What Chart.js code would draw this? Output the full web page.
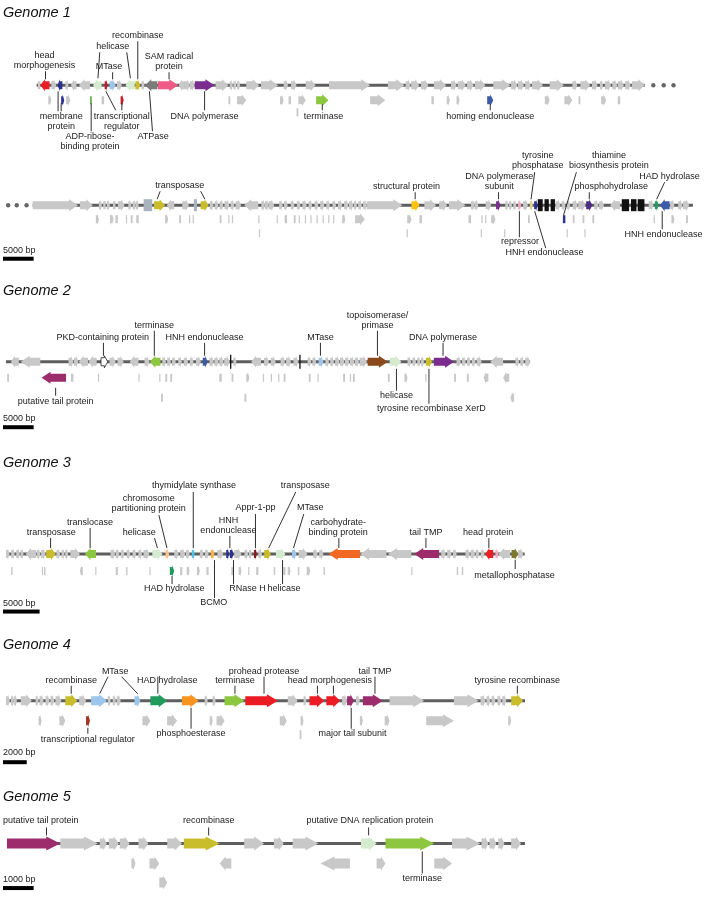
<!DOCTYPE html>
<html>
<head>
<meta charset="utf-8">
<script src="https://cdn.jsdelivr.net/npm/chart.js@4.4.0/dist/chart.umd.min.js"></script>
<style>
  body { margin: 0; background: #fff; }
  canvas { display: block; }
</style>
</head>
<body>
<canvas id="map" width="708" height="897"></canvas>
<script>
// ---------------------------------------------------------------- DATA
// every position is in kb from the start of the drawn segment
// gene = [from, to, lane, colour]   (to < from -> gene on the minus strand)
// lane 0 = on the genome line, 1 and 2 = rows below it

const genomeNames = ["Genome 1", "Genome 2", "Genome 3", "Genome 4", "Genome 5"];
const segmentLength = [99.2, 107.7, 85.5, 70.9, 43.75, 16.9];
const scaleBarKb = [5, 5, 5, 2, 1];
const scaleBarText = ["5000 bp", "5000 bp", "5000 bp", "2000 bp", "1000 bp"];
const g1Dots = [[100.6, 102.3, 103.9], [-4.0, -2.6, -1.0]];

const g1aGenes = [
  [0.2, 0.6], [2.1, 0.6, 0, "red"], [2.4, 3.2], [4.2, 3.4, 0, "navy"], [4.7, 5.2], [6.5, 5.6],
  [8.7, 6.9], [10.6, 9.2, 0, "pgreen"], [11.1, 11.6, 0, "dred"], [11.9, 12.9, 0, "lblue"],
  [13.1, 13.9], [16.0, 14.5, 0, "pgreen"], [16.1, 16.9, 0, "yel"], [17.1, 17.6],
  [19.7, 17.7, 0, "dgray"], [19.8, 23.1, 0, "pink"], [24.2, 23.2], [24.2, 25.0], [25.0, 25.8],
  [25.8, 29.0, 0, "purp"], [29.2, 31.3], [31.5, 32.0], [32.1, 32.6], [32.7, 33.2],
  [34.2, 36.3], [36.6, 39.4], [40.3, 41.0], [41.5, 42.4], [43.9, 45.5], [47.7, 54.4],
  [57.3, 60.0], [60.2, 61.0], [61.1, 62.4], [62.7, 63.9], [64.8, 66.8], [67.6, 68.5],
  [68.7, 70.0], [70.2, 71.3], [71.5, 73.2], [74.5, 77.3], [77.4, 78.4], [78.5, 79.5],
  [79.7, 80.6], [80.8, 82.6], [83.7, 86.0], [87.4, 88.2], [88.7, 90.3], [90.6, 91.5],
  [91.9, 92.4], [92.7, 93.7], [93.9, 94.7], [94.8, 95.8], [96.0, 96.9], [97.1, 99.2],
  [1.9, 2.4, 1], [4.0, 4.5, 1, "navy"], [4.8, 5.5, 1], [8.7, 9.0, 1, "agreen"], [10.6, 11.0, 1],
  [13.7, 14.2, 1, "dred"], [31.3, 31.6, 1], [32.7, 34.2, 1], [39.7, 40.3, 1], [41.1, 41.5, 1],
  [42.7, 43.9, 1], [45.6, 47.6, 1, "green"], [54.4, 56.9, 1], [64.4, 64.8, 1], [66.9, 67.4, 1],
  [68.5, 69.0, 1], [73.5, 74.5, 1, "blue"], [82.9, 83.7, 1], [86.1, 87.4, 1], [88.4, 88.7, 1],
  [92.1, 92.9, 1], [94.8, 95.2, 1],
  [42.4, 42.7, 2]
];

const g1bGenes = [
  [0, 7.4], [7.7, 9.8], [10.8, 11.3], [11.5, 11.9], [12.1, 12.6], [13.1, 13.5], [13.9, 15.0],
  [15.6, 16.1], [16.3, 16.8], [16.8, 17.3], [18.1, 19.5, 0, "box"], [19.8, 21.6, 0, "yel"],
  [23.1, 21.9], [24.4, 25.5], [26.3, 26.8, 0, "box"], [27.4, 28.7, 0, "yel"], [28.9, 29.5],
  [29.7, 30.3], [30.5, 31.1], [31.3, 32.1], [32.3, 32.9], [33.1, 34.0], [36.8, 34.5],
  [37.3, 37.9], [37.9, 38.5], [38.5, 39.4], [40.2, 40.8], [41.0, 41.6], [42.1, 42.7],
  [43.1, 43.7], [44.0, 44.7], [45.0, 45.6], [46.0, 46.6], [46.9, 47.6], [47.9, 48.5],
  [48.9, 49.5], [49.8, 50.5], [50.8, 51.5], [51.6, 52.3], [52.4, 52.9], [53.1, 53.7],
  [53.9, 54.5], [54.5, 60.3], [61.8, 63.1, 0, "gold"], [63.9, 65.8], [66.3, 67.6], [67.9, 70.6],
  [71.5, 72.1], [72.1, 72.7], [73.9, 74.8], [75.6, 76.3, 0, "purp"], [77.1, 77.6], [77.7, 78.2],
  [78.4, 78.9], [79.2, 79.7, 0, "lpink"], [80.0, 80.8], [81.1, 81.6, 0, "khaki"],
  [81.8, 82.4, 0, "navy"], [82.4, 83.2, 0, "blk"], [83.5, 84.2, 0, "blk"], [84.5, 85.2, 0, "blk"],
  [85.3, 86.1], [86.3, 86.9], [87.1, 87.7], [88.1, 88.9], [89.0, 90.2], [90.3, 91.3, 0, "indigo"],
  [91.6, 92.3], [92.4, 93.2], [95.8, 94.2], [96.1, 97.3, 0, "blk"], [97.6, 98.5, 0, "blk"],
  [98.7, 99.8, 0, "blk"], [100.5, 101.3], [101.5, 102.1, 0, "hgreen"], [103.9, 102.3, 0, "blue"],
  [104.0, 104.7], [105.3, 106.0], [106.1, 107.1],
  [10.3, 10.8, 1], [12.6, 13.2, 1], [13.5, 13.9, 1], [15.2, 15.4, 1], [16.0, 16.3, 1],
  [16.9, 17.3, 1], [21.6, 22.1, 1], [23.9, 24.2, 1], [25.5, 25.7, 1], [26.1, 26.3, 1],
  [30.5, 30.8, 1], [31.9, 32.1, 1], [32.5, 32.7, 1], [36.8, 37.0, 1], [39.8, 40.0, 1],
  [41.1, 41.5, 1], [42.6, 42.9, 1], [43.4, 43.6, 1], [44.4, 44.6, 1], [45.3, 45.5, 1],
  [46.3, 46.5, 1], [47.3, 47.5, 1], [48.2, 48.4, 1], [49.0, 49.2, 1], [50.5, 51.0, 1],
  [52.6, 54.2, 1], [61.1, 61.8, 1], [63.1, 63.5, 1], [71.1, 71.5, 1], [73.2, 73.4, 1],
  [73.8, 74.0, 1], [74.8, 75.5, 1], [80.8, 81.1, 1], [86.5, 86.9, 1, "navy"], [88.1, 88.4, 1],
  [89.7, 90.0, 1], [91.3, 91.6, 1], [101.3, 101.5, 1], [104.2, 104.7, 1], [106.6, 106.9, 1],
  [36.9, 37.1, 2], [61.0, 61.2, 2], [73.1, 73.3, 2], [76.9, 77.1, 2], [87.1, 87.3, 2], [90.0, 90.2, 2]
];

const g2Genes = [
  [2.1, 0.8], [5.6, 2.4], [10.2, 11.0], [11.1, 11.8], [13.4, 11.9], [14.8, 13.5],
  [15.5, 16.6, 0, "pkd"], [16.9, 17.9], [18.2, 19.2], [21.6, 20.2], [22.6, 23.4],
  [25.2, 23.5, 0, "green"], [25.5, 26.1], [26.3, 26.9], [27.1, 27.7], [28.1, 28.7], [29.0, 29.7],
  [30.0, 30.6], [31.0, 31.8], [32.1, 32.9, 0, "blue"], [33.2, 33.9], [34.0, 34.7], [34.8, 35.5],
  [35.6, 36.5], [36.55, 36.6, 0, "tick"], [37.1, 37.6], [41.6, 40.0], [42.1, 42.9], [43.2, 44.0],
  [44.8, 45.5], [45.7, 46.5], [46.9, 47.7], [47.85, 47.9, 0, "tick"], [49.2, 49.8], [50.0, 50.6],
  [51.0, 51.8, 0, "lblue"], [52.1, 52.7], [52.9, 53.5], [53.7, 54.4], [54.5, 55.2], [55.3, 56.0],
  [56.1, 56.8], [56.9, 57.6], [57.7, 58.9], [59.0, 62.3, 0, "brown"], [62.6, 64.5, 0, "pgreen"],
  [65.5, 66.1], [66.3, 66.9], [67.1, 67.6], [67.7, 68.2], [68.5, 69.5, 0, "yel"],
  [69.8, 73.1, 0, "purp"], [73.5, 74.2], [74.4, 75.0], [75.2, 75.8], [76.0, 76.6], [76.8, 77.6],
  [81.1, 79.0], [83.1, 83.7], [83.9, 84.5], [84.7, 85.5],
  [0.2, 0.5, 1], [9.8, 5.8, 1, "mag"], [10.6, 11.0, 1], [15.0, 15.2, 1], [21.6, 21.8, 1],
  [25.0, 25.2, 1], [26.0, 26.3, 1], [26.8, 27.1, 1], [34.8, 35.2, 1], [36.8, 37.1, 1],
  [39.2, 39.7, 1], [41.9, 42.1, 1], [43.2, 43.4, 1], [44.4, 44.6, 1], [45.3, 45.6, 1],
  [49.4, 49.7, 1], [50.8, 51.0, 1], [55.0, 55.3, 1], [56.1, 56.3, 1], [56.6, 56.9, 1],
  [62.3, 62.6, 1], [65.0, 65.5, 1], [68.4, 68.6, 1], [73.1, 73.4, 1], [75.2, 75.5, 1],
  [78.7, 77.9, 1], [82.1, 81.1, 1],
  [25.3, 25.6, 2], [38.9, 39.2, 2], [82.9, 82.3, 2]
];

const g3Genes = [
  [0, 0.5], [0.7, 1.2], [1.4, 1.9], [2.0, 2.4], [4.1, 2.7], [4.2, 4.7], [4.8, 5.4],
  [5.5, 6.8, 0, "yel"], [6.9, 7.4], [7.6, 8.0], [8.1, 8.5], [8.8, 10.1], [12.3, 10.8, 0, "green"],
  [14.3, 14.9], [15.0, 15.5], [15.7, 16.2], [16.5, 17.0], [17.3, 17.8], [18.1, 18.6], [18.8, 19.6],
  [20.0, 21.4, 0, "pgreen"], [21.8, 22.3, 0, "peach"], [23.0, 23.6], [23.8, 24.5], [24.6, 25.1],
  [25.4, 25.8, 0, "cyan"], [26.5, 27.0], [27.2, 27.7], [28.0, 28.5, 0, "apricot"], [28.9, 29.7],
  [30.1, 30.5, 0, "navy"], [30.6, 31.1, 0, "navy"], [31.2, 32.2], [32.6, 33.1], [33.2, 33.6],
  [33.9, 34.3, 0, "appr"], [34.5, 35.0], [35.3, 36.2, 0, "yel"], [36.9, 38.2, 0, "pgreen"],
  [39.1, 39.7, 0, "lblue"], [40.0, 41.2], [42.0, 42.6], [42.8, 43.4], [48.4, 44.1, 0, "orange"],
  [52.0, 48.4], [55.4, 52.2], [59.2, 55.8, 0, "mag"], [59.5, 60.1], [60.3, 60.9], [61.1, 61.6],
  [62.8, 63.4], [63.5, 64.1], [64.2, 64.7], [64.9, 65.4], [66.6, 65.5, 0, "red"],
  [66.9, 67.3, 0, "lpink"], [68.9, 67.3], [69.1, 70.0, 0, "olive"], [70.0, 70.7],
  [0.7, 0.9, 1], [4.9, 5.0, 1], [5.2, 5.4, 1], [10.5, 10.1, 1], [12.2, 12.35, 1], [15.0, 15.3, 1],
  [16.4, 16.6, 1], [19.6, 19.75, 1], [22.4, 23.0, 1, "hgreen"], [23.8, 24.1, 1], [24.7, 25.1, 1],
  [26.1, 26.5, 1], [27.4, 27.7, 1], [30.8, 31.2, 1], [31.8, 32.2, 1], [33.1, 33.25, 1],
  [34.2, 34.5, 1], [36.6, 36.8, 1], [37.9, 38.2, 1], [38.5, 38.9, 1], [39.9, 40.1, 1],
  [41.1, 41.6, 1], [43.4, 43.6, 1], [55.4, 55.55, 1], [61.6, 61.8, 1], [62.3, 62.5, 1]
];

const g4Genes = [
  [0, 0.33], [0.42, 0.67], [0.67, 0.92], [1.25, 2.17], [2.5, 2.75], [2.83, 3.17], [3.33, 3.67],
  [3.75, 4.08], [4.17, 4.67], [5.0, 6.0, 0, "yel"], [6.17, 6.75], [7.17, 8.5, 0, "lblue"],
  [8.58, 8.83], [9.0, 9.25], [9.33, 9.67], [10.83, 11.33, 0, "lblue"], [12.17, 13.58, 0, "hgreen"],
  [14.83, 16.25, 0, "porange"], [16.75, 17.0], [17.42, 17.67], [18.42, 20.08, 0, "green"],
  [20.17, 22.92, 0, "red"], [23.75, 24.58], [25.08, 25.33], [25.58, 26.83, 0, "red"],
  [27.0, 28.17, 0, "red"], [28.33, 28.75], [28.75, 29.33, 0, "mag"], [29.5, 29.83],
  [30.08, 31.75, 0, "mag"], [32.33, 35.25], [37.75, 39.83], [40.0, 40.42], [40.5, 40.83],
  [40.92, 41.25], [41.42, 41.75], [41.83, 42.17], [42.58, 43.58, 0, "yel"],
  [2.75, 3.0, 1], [4.5, 5.0, 1], [6.75, 7.08, 1, "rust"], [11.5, 12.17, 1], [13.58, 14.42, 1],
  [17.17, 17.42, 1], [17.75, 18.42, 1], [23.08, 23.67, 1], [24.83, 25.08, 1], [29.83, 30.08, 1],
  [31.92, 32.33, 1], [35.42, 37.75, 1], [42.33, 42.58, 1],
  [24.75, 24.9, 2]
];

const g5Genes = [
  [0, 1.74, 0, "mag"], [1.74, 2.97], [3.03, 3.26], [3.32, 3.65], [3.68, 4.0], [4.29, 4.61],
  [5.23, 5.71], [5.77, 6.94, 0, "yel"], [7.74, 8.39], [8.71, 9.03], [9.32, 10.16],
  [11.55, 12.06, 0, "pgreen"], [12.35, 13.94, 0, "green"], [14.52, 15.45], [15.48, 15.71],
  [15.74, 15.97], [16.03, 16.23], [16.45, 16.77],
  [4.06, 4.19, 1], [4.65, 4.97, 1], [7.32, 6.94, 1], [11.19, 10.23, 1], [12.06, 12.35, 1],
  [13.94, 14.52, 1],
  [4.97, 5.23, 2]
];

// label = [text lines, kb of text centre, baseline of last line (px from genome line), leader lines [kb, dy, kb, dy]]
const g1aLabels = [
  [["head", "morphogenesis"], 1.3, -17, [[1.45, -14, 1.45, -6]]],
  [["helicase"], 12.4, -36, [[10.3, -33, 10.0, -7]]],
  [["MTase"], 11.8, -16, [[12.4, -13, 12.4, -6]]],
  [["recombinase"], 16.5, -47, [[16.5, -44, 16.5, -6]]],
  [["SAM radical", "protein"], 21.6, -16, [[21.6, -13, 21.6, -6]]],
  [["membrane", "protein"], 4.0, 44, [[3.5, 6, 3.5, 26], [4.0, 18, 4.0, 26]]],
  [["transcriptional", "regulator"], 13.9, 44, [[11.3, 6, 12.9, 25], [13.9, 18, 13.9, 25]]],
  [["ADP-ribose-", "binding protein"], 8.7, 64, [[8.9, 18, 8.9, 46]]],
  [["ATPase"], 19.0, 54, [[18.4, 6, 18.9, 46]]],
  [["DNA polymerase"], 27.4, 34, [[27.4, 6, 27.4, 25]]],
  [["terminase"], 46.8, 34, [[46.6, 19, 46.6, 25]]],
  [["homing endonuclease"], 74.0, 34, [[74.0, 19, 74.0, 25]]]
];
// second leader of "helicase" goes to the other helicase gene
g1aLabels[1][3].push([14.7, -33, 15.3, -7]);

const g1bLabels = [
  [["transposase"], 24.0, -17, [[20.8, -14, 20.3, -6], [27.4, -14, 28.1, -6]]],
  [["structural protein"], 61.0, -16, [[62.4, -13, 62.4, -6]]],
  [["DNA polymerase", "subunit"], 76.1, -16, [[76.0, -13, 76.0, -6]]],
  [["tyrosine", "phosphatase"], 82.4, -37, [[81.9, -33, 81.3, -6]]],
  [["thiamine", "biosynthesis protein"], 94.0, -37, [[88.7, -33, 86.6, 10]]],
  [["phosphohydrolase"], 94.4, -16, [[90.8, -13, 90.8, -6]]],
  [["HAD hydrolase"], 103.9, -26, [[103.1, -23, 101.8, -6]]],
  [["HNH endonuclease"], 102.9, 32, [[102.7, 6, 102.7, 24]]],
  [["repressor"], 79.5, 39, [[79.4, 6, 79.4, 32]]],
  [["HNH endonuclease"], 83.5, 50, [[81.9, 6, 83.7, 43]]]
];
const g2Labels = [
  [["PKD-containing protein"], 15.8, -22, [[15.9, -19, 15.9, -6]]],
  [["terminase"], 24.2, -34, [[24.2, -31, 24.2, -6]]],
  [["HNH endonuclease"], 32.4, -22, [[32.4, -19, 32.4, -6]]],
  [["MTase"], 51.3, -22, [[51.3, -19, 51.3, -6]]],
  [["topoisomerase/", "primase"], 60.6, -34, [[60.6, -31, 60.6, -6]]],
  [["DNA polymerase"], 71.3, -22, [[71.3, -19, 71.3, -6]]],
  [["putative tail protein"], 8.1, 42, [[8.1, 26, 8.1, 34]]],
  [["helicase"], 63.7, 36, [[63.7, 7, 63.7, 29]]],
  [["tyrosine recombinase XerD"], 69.4, 49, [[69.0, 7, 69.0, 42]]]
];
const g3Labels = [
  [["transposase"], 6.2, -19, [[6.1, -16, 6.1, -6]]],
  [["translocase"], 11.5, -29, [[11.5, -26, 11.5, -6]]],
  [["helicase"], 18.2, -19, [[20.3, -16, 20.7, -6]]],
  [["chromosome", "partitioning protein"], 19.5, -43, [[20.9, -39, 22.0, -6]]],
  [["thymidylate synthase"], 25.7, -66, [[25.6, -62, 25.6, -6]]],
  [["HNH", "endonuclease"], 30.4, -21, [[30.6, -18, 30.6, -6]]],
  [["Appr-1-pp"], 34.1, -44, [[34.1, -40, 34.1, -6]]],
  [["transposase"], 40.9, -66, [[39.6, -62, 35.9, -6]]],
  [["MTase"], 41.6, -44, [[40.7, -40, 39.3, -6]]],
  [["carbohydrate-", "binding protein"], 45.4, -19, [[45.5, -16, 45.5, -6]]],
  [["tail TMP"], 57.4, -19, [[57.4, -16, 57.4, -6]]],
  [["head protein"], 65.9, -19, [[66.0, -16, 66.0, -6]]],
  [["metallophosphatase"], 69.5, 24, [[69.6, 6, 69.6, 15]]],
  [["HAD hydrolase"], 23.0, 37, [[22.7, 22, 22.7, 30]]],
  [["BCMO"], 28.4, 51, [[28.5, 6, 28.5, 44]]],
  [["RNase H"], 33.0, 37, [[31.1, 6, 31.1, 30]]],
  [["helicase"], 38.0, 37, [[37.8, 6, 37.8, 30]]]
];
const g4Labels = [
  [["recombinase"], 5.5, -18, [[5.5, -15, 5.5, -7]]],
  [["MTase"], 9.2, -27, [[8.6, -24, 7.9, -7], [9.75, -24, 11.1, -7]]],
  [["HAD hydrolase"], 13.6, -18, [[12.8, -24, 12.8, -7]]],
  [["terminase"], 19.3, -18, [[19.3, -15, 19.3, -7]]],
  [["prohead protease"], 21.75, -27, [[21.75, -24, 21.75, -7]]],
  [["head morphogenesis"], 27.3, -18, [[26.25, -15, 26.25, -7], [27.6, -15, 27.6, -7]]],
  [["tail TMP"], 31.1, -27, [[31.1, -24, 31.1, -7]]],
  [["tyrosine recombinase"], 43.1, -18, [[43.1, -15, 43.1, -7]]],
  [["phosphoesterase"], 15.6, 35, [[15.6, 7, 15.6, 28]]],
  [["major tail subunit"], 29.2, 35, [[29.1, 7, 29.1, 28]]],
  [["transcriptional regulator"], 6.9, 41, [[6.9, 27, 6.9, 33]]]
];
const g5Labels = [
  [["putative tail protein"], 1.1, -20, [[1.29, -16, 1.29, -8]]],
  [["recombinase"], 6.58, -20, [[6.58, -16, 6.58, -8]]],
  [["putative DNA replication protein"], 11.84, -20, [[11.8, -16, 11.8, -8]]],
  [["terminase"], 13.55, 38, [[13.55, 8, 13.55, 30]]]
];

// ---------------------------------------------------------------- LAYOUT / STYLE
const W = 708, H = 897;
const palette = {
  n: "#c8c8c8", red: "#ec1c24", navy: "#2e3192", pgreen: "#d4ebd0", dred: "#be1e2d",
  lblue: "#9dc6ec", yel: "#c9bd2b", dgray: "#7b7b7b", pink: "#ef5a86", purp: "#7b2c8f",
  green: "#8dc63f", blue: "#3d5ca8", agreen: "#6cb548", gold: "#fdc20f", blk: "#111111",
  brown: "#8a4a1c", mag: "#9c2c6c", orange: "#f26722", peach: "#fbc592", apricot: "#fbb04a",
  cyan: "#4fc4e7", appr: "#8d1b1b", olive: "#7d7a2f", hgreen: "#1f9b5c", porange: "#f7941d",
  lpink: "#f3a9c5", box: "#a9b3c0", khaki: "#d9d38f", indigo: "#4b2d87", rust: "#a3311f",
  pkd: "#ffffff", tick: "#111111"
};

// one entry per drawn genome line
const tracks = [
  { id: "g1a", genes: g1aGenes, labels: g1aLabels, x0: 33, ppk: 6.2, y: 82, lanes: [0, 15, 27], body: 8, head: 12, headMax: 9 },
  { id: "g1b", genes: g1bGenes, labels: g1bLabels, x0: 29, ppk: 6.2, y: 203, lanes: [0, 14, 28], body: 8, head: 12, headMax: 9 },
  { id: "g2", genes: g2Genes, labels: g2Labels, x0: 2, ppk: 6.2, y: 361, lanes: [0, 16, 36], body: 8, head: 12, headMax: 9 },
  { id: "g3", genes: g3Genes, labels: g3Labels, x0: 2, ppk: 7.4, y: 555, lanes: [0, 17, 30], body: 8, head: 12, headMax: 9 },
  { id: "g4", genes: g4Genes, labels: g4Labels, x0: 2, ppk: 12, y: 703, lanes: [0, 20, 34], body: 9, head: 13, headMax: 11 },
  { id: "g5", genes: g5Genes, labels: g5Labels, x0: 3, ppk: 31, y: 847, lanes: [0, 20, 39], body: 10, head: 14, headMax: 14 }
];
const titleY = [13, 294, 467, 651, 804];
const barTrack = ["g1b", "g2", "g3", "g4", "g5"];
const barTextY = [251, 421, 607, 758, 886];
const barY = [255, 425, 611, 763, 890];
const FONT = '"Liberation Sans", Arial, sans-serif';

// ---------------------------------------------------------------- DRAWING
function drawGene(ctx, xa, xb, yc, t, key) {
  const dir = xb >= xa ? 1 : -1;
  const a = Math.min(xa, xb), b = Math.max(xa, xb);
  const len = b - a;
  ctx.fillStyle = palette[key] || palette.n;
  if (key === "tick") {
    ctx.fillRect(a, yc - t.head / 2 - 1, 1.3, t.head + 2);
    return;
  }
  if (key === "blk" || key === "box") {
    ctx.fillRect(a, yc - t.head / 2, len, t.head);
    return;
  }
  if (len < 2.5) {
    ctx.fillRect(a, yc - t.body / 2, Math.max(len, 1.2), t.body);
    return;
  }
  const hl = Math.min(len * 0.5, t.headMax);
  const bh = t.body / 2, hh = t.head / 2;
  ctx.beginPath();
  if (dir > 0) {
    ctx.moveTo(a, yc - bh); ctx.lineTo(b - hl, yc - bh); ctx.lineTo(b - hl, yc - hh);
    ctx.lineTo(b, yc); ctx.lineTo(b - hl, yc + hh); ctx.lineTo(b - hl, yc + bh); ctx.lineTo(a, yc + bh);
  } else {
    ctx.moveTo(b, yc - bh); ctx.lineTo(a + hl, yc - bh); ctx.lineTo(a + hl, yc - hh);
    ctx.lineTo(a, yc); ctx.lineTo(a + hl, yc + hh); ctx.lineTo(a + hl, yc + bh); ctx.lineTo(b, yc + bh);
  }
  ctx.closePath();
  ctx.fill();
  if (key === "pkd") {
    ctx.strokeStyle = "#222"; ctx.lineWidth = 0.8; ctx.stroke();
  }
}

const genomeMap = {
  id: "genomeMap",
  afterDatasetsDraw(chart) {
    const ctx = chart.ctx;
    const ys = chart.scales.y;
    ctx.save();
    tracks.forEach((t) => {
      const xs = chart.scales[t.id];
      const yLine = ys.getPixelForValue(t.y);
      t.genes.forEach(([from, to, lane = 0, key = "n"]) => {
        drawGene(ctx, xs.getPixelForValue(from), xs.getPixelForValue(to), yLine + t.lanes[lane], t, key);
      });
      // leader lines and labels
      ctx.strokeStyle = "#1a1a1a";
      ctx.lineWidth = 0.9;
      ctx.fillStyle = "#1a1a1a";
      ctx.font = "9px " + FONT;
      ctx.textAlign = "center";
      ctx.textBaseline = "alphabetic";
      t.labels.forEach(([lines, at, dy, leaders]) => {
        leaders.forEach(([k1, d1, k2, d2]) => {
          ctx.beginPath();
          ctx.moveTo(xs.getPixelForValue(k1), yLine + d1);
          ctx.lineTo(xs.getPixelForValue(k2), yLine + d2);
          ctx.stroke();
        });
        const cx = xs.getPixelForValue(at);
        lines.forEach((s, i) => {
          ctx.fillText(s, cx, yLine + dy - (lines.length - 1 - i) * 10);
        });
      });
    });
    // titles
    ctx.textAlign = "left";
    ctx.fillStyle = "#111";
    ctx.font = "italic 14.5px " + FONT;
    genomeNames.forEach((name, i) => ctx.fillText(name, 3, ys.getPixelForValue(titleY[i])));
    // scale bars
    ctx.font = "9px " + FONT;
    scaleBarKb.forEach((kb, i) => {
      const xs = chart.scales[barTrack[i]];
      const w = xs.getPixelForValue(kb) - xs.getPixelForValue(0);
      ctx.fillStyle = "#1a1a1a";
      ctx.fillText(scaleBarText[i], 3, ys.getPixelForValue(barTextY[i]));
      ctx.fillStyle = "#000";
      ctx.fillRect(3, ys.getPixelForValue(barY[i]), w, 4);
    });
    ctx.restore();
  }
};

// ---------------------------------------------------------------- CHART
const scales = { y: { type: "linear", display: false, min: 0, max: H, reverse: true } };
tracks.forEach((t) => {
  scales[t.id] = { type: "linear", display: false, min: -t.x0 / t.ppk, max: (W - t.x0) / t.ppk };
});

const datasets = tracks.map((t, i) => ({
  type: "line",
  xAxisID: t.id,
  yAxisID: "y",
  data: [{ x: 0, y: t.y }, { x: segmentLength[i], y: t.y }],
  borderColor: "#5e5e5e",
  borderWidth: 3,
  pointRadius: 0
}));
g1Dots.forEach((dots, i) => {
  datasets.push({
    type: "scatter",
    xAxisID: tracks[i].id,
    yAxisID: "y",
    data: dots.map((x) => ({ x: x, y: tracks[i].y })),
    backgroundColor: "#666",
    borderWidth: 0,
    pointRadius: 2.2
  });
});

new Chart(document.getElementById("map"), {
  type: "line",
  data: { datasets: datasets },
  options: {
    responsive: false,
    animation: false,
    devicePixelRatio: 1,
    events: [],
    layout: { padding: 0 },
    scales: scales,
    plugins: { legend: { display: false }, tooltip: { enabled: false } }
  },
  plugins: [genomeMap]
});
</script>
</body>
</html>
